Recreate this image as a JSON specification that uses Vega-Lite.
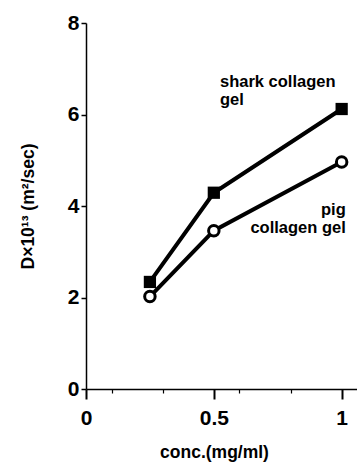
{
  "$schema": "https://vega.github.io/schema/vega-lite/v6.json",
  "autosize": "none",
  "width": 271,
  "height": 366,
  "padding": {"left": 86, "top": 23, "right": 0, "bottom": 73},
  "background": "white",
  "config": {
    "view": {"stroke": null},
    "font": "Liberation Sans",
    "axis": {"grid": false, "domainColor": "black", "tickColor": "black", "labelColor": "black", "titleColor": "black", "domainWidth": 1.5, "tickWidth": 1.5, "labelFont": "Liberation Sans", "titleFont": "Liberation Sans", "labelFontWeight": "bold", "titleFontWeight": "bold"}
  },
  "datasets": {
    "pts": [
      {"conc": 0.25, "D": 2.34, "gel": "shark"},
      {"conc": 0.5, "D": 4.29, "gel": "shark"},
      {"conc": 1.0, "D": 6.12, "gel": "shark"},
      {"conc": 0.25, "D": 2.02, "gel": "pig"},
      {"conc": 0.5, "D": 3.46, "gel": "pig"},
      {"conc": 1.0, "D": 4.96, "gel": "pig"}
    ],
    "labels": [
      {"conc": 0.524, "D": 6.72, "text": "shark collagen\ngel", "side": "left"},
      {"conc": 1.016, "D": 3.92, "text": "pig\ncollagen gel", "side": "right"}
    ]
  },
  "layer": [
    {
      "data": {"name": "pts"},
      "mark": {"type": "line", "color": "black", "strokeWidth": 4},
      "encoding": {
        "x": {"field": "conc", "type": "quantitative", "scale": {"domain": [0, 1.06], "nice": false},
              "axis": {"orient": "bottom", "values": [0, 0.5, 1], "tickSize": 10, "tickWidth": 2,
                       "labelOverlap": false, "format": "~g",
                       "labelFontSize": 21, "labelPadding": 8, "title": "conc.(mg/ml)", "titleFontSize": 17.5, "titlePadding": 15, "titleX": 128, "labelFlush": false}},
        "y": {"field": "D", "type": "quantitative", "scale": {"domain": [0, 8], "nice": false},
              "axis": {"values": [0, 2, 4, 6, 8], "tickSize": 5, "labelFontSize": 21, "labelPadding": 2, "labelOverlap": false, "title": "D×10¹³ (m²/sec)", "titleFontSize": 17.5, "titlePadding": 30, "labelFlush": false}},
        "detail": {"field": "gel"}
      }
    },
    {
      "layer": [
        {
          "data": {"name": "pts"},
          "transform": [{"filter": "datum.gel === 'shark'"}],
          "mark": {"type": "point", "shape": "square", "filled": true, "color": "black", "size": 150, "opacity": 1},
          "encoding": {
            "x": {"field": "conc", "type": "quantitative",
                  "axis": {"orient": "bottom", "values": [0.1, 0.2, 0.3, 0.4, 0.6, 0.7, 0.8, 0.9], "tickSize": 4, "tickWidth": 1.2, "labels": false, "domain": false, "title": null}},
            "y": {"field": "D", "type": "quantitative"}
          }
        },
        {
          "data": {"name": "pts"},
          "transform": [{"filter": "datum.gel === 'pig'"}],
          "mark": {"type": "point", "shape": "circle", "filled": true, "fill": "white", "stroke": "black", "strokeWidth": 3, "size": 110, "opacity": 1},
          "encoding": {
            "x": {"field": "conc", "type": "quantitative"},
            "y": {"field": "D", "type": "quantitative"}
          }
        },
        {
          "data": {"name": "labels"},
          "transform": [{"filter": "datum.side === 'left'"}],
          "mark": {"type": "text", "align": "left", "fontWeight": "bold", "fontSize": 16.5, "lineBreak": "\n", "lineHeight": 18, "baseline": "middle", "color": "black"},
          "encoding": {
            "x": {"field": "conc", "type": "quantitative"},
            "y": {"field": "D", "type": "quantitative"},
            "text": {"field": "text"}
          }
        },
        {
          "data": {"name": "labels"},
          "transform": [{"filter": "datum.side === 'right'"}],
          "mark": {"type": "text", "align": "right", "fontWeight": "bold", "fontSize": 16.5, "lineBreak": "\n", "lineHeight": 18, "baseline": "middle", "color": "black"},
          "encoding": {
            "x": {"field": "conc", "type": "quantitative"},
            "y": {"field": "D", "type": "quantitative"},
            "text": {"field": "text"}
          }
        }
      ]
    }
  ],
  "resolve": {"axis": {"x": "independent"}}
}
